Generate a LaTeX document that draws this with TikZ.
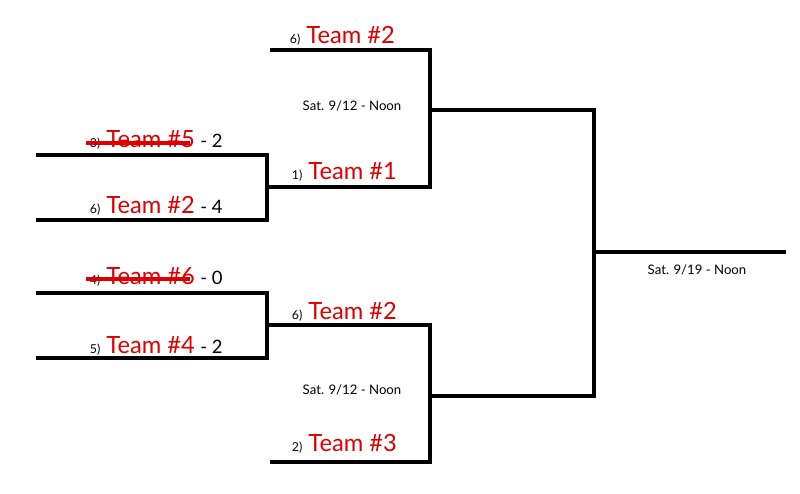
\documentclass[tikz,border=0pt]{standalone}
\usepackage{fontspec}
\setmainfont{Lato}
\usepackage{xcolor}
\usetikzlibrary{positioning}
\definecolor{teamred}{RGB}{220,0,0}

\begin{document}
\begin{tikzpicture}[
			x=0.02cm,y=-0.02cm,
			line/.style={black,line width=2.2pt},
			seed/.style={inner sep=0pt,xshift=-3pt,font=\fontsize{7}{8}\selectfont},
			team/.style={inner sep=0pt,text=teamred,font=\fontsize{13.5}{14}\selectfont},
			score/.style={inner sep=0pt,font=\fontsize{10.5}{12}\selectfont},
			date/.style={font=\fontsize{7.5}{9}\selectfont}
			]
			\useasboundingbox (0,0) rectangle (800,493);

			% first round
			\coordinate (a1) at (36,155);  \coordinate (a2) at (267,155);
			\coordinate (b1) at (36,220);  \coordinate (b2) at (267,220);
			\coordinate (c1) at (36,293);  \coordinate (c2) at (267,293);
			\coordinate (d1) at (36,358);  \coordinate (d2) at (267,358);
			% semifinals
			\coordinate (e1) at (270,50);  \coordinate (e2) at (430,50);
			\coordinate (f1) at (267,187); \coordinate (f2) at (430,187);
			\coordinate (g1) at (267,325); \coordinate (g2) at (430,325);
			\coordinate (h1) at (270,462); \coordinate (h2) at (430,462);
			% final
			\coordinate (i1) at (430,110); \coordinate (i2) at (594,110);
			\coordinate (j1) at (430,396); \coordinate (j2) at (594,396);
			\coordinate (k1) at (594,252); \coordinate (k2) at (786,252);

			\draw[line] (a1) -- (a2) -- (b2) -- (b1);
			\draw[line] (c1) -- (c2) -- (d2) -- (d1);
			\draw[line] (e1) -- (e2) -- (f2) -- (f1);
			\draw[line] (g1) -- (g2) -- (h2) -- (h1);
			\draw[line] (i1) -- (i2) -- (j2) -- (j1);
			\draw[line] (k1) -- (k2);

			% first round labels
			\node[team,anchor=base west] (t5) at (106,148) {Team \#5};
			\node[seed,anchor=base east] (s3) at (t5.base west) {3)};
			\node[score,anchor=base west] (p5) at (200,148) {- 2};
			\draw[teamred,line width=2pt] (86,143) -- (190,143);

			\node[team,anchor=base west] (t2a) at (106,214) {Team \#2};
			\node[seed,anchor=base east] at (t2a.base west) {6)};
			\node[score,anchor=base west] at (200,214) {- 4};

			\node[team,anchor=base west] (t6) at (106,284) {Team \#6};
			\node[seed,anchor=base east] at (t6.base west) {4)};
			\node[score,anchor=base west] at (200,284) {- 0};
			\draw[teamred,line width=2pt] (86,279) -- (190,279);

			\node[team,anchor=base west] (t4) at (106,353) {Team \#4};
			\node[seed,anchor=base east] at (t4.base west) {5)};
			\node[score,anchor=base west] at (200,353) {- 2};

			% semifinal labels
			\node[team,anchor=base west] (t2b) at (306,44) {Team \#2};
			\node[seed,anchor=base east] at (t2b.base west) {6)};
			\node[team,anchor=base west] (t1) at (308,179) {Team \#1};
			\node[seed,anchor=base east] at (t1.base west) {1)};
			\node[team,anchor=base west] (t2c) at (308,319) {Team \#2};
			\node[seed,anchor=base east] at (t2c.base west) {6)};
			\node[team,anchor=base west] (t3) at (308,451) {Team \#3};
			\node[seed,anchor=base east] at (t3.base west) {2)};

			\node[date] (d1) at (352,106) {Sat. 9/12 - Noon};
			\node[date] (d2) at (352,390) {Sat. 9/12 - Noon};
			\node[date] (d3) at (697,270) {Sat. 9/19 - Noon};

		\end{tikzpicture}
\end{document}
